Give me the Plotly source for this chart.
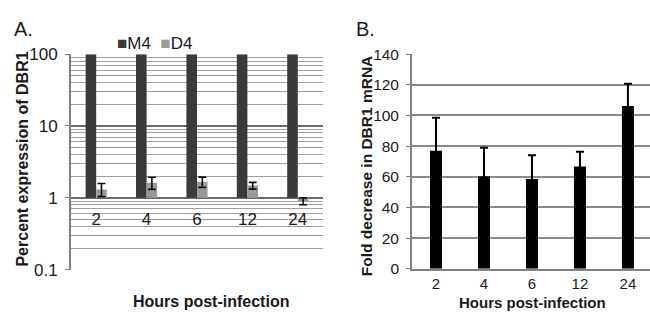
import plotly.graph_objects as go

# ---- data ----
hours = ["2", "4", "6", "12", "24"]
m4_percent = [100, 100, 100, 100, 100]
d4_percent = [1.31, 1.62, 1.67, 1.48, 0.90]
d4_err = [0.27, 0.31, 0.27, 0.16, 0.10]
fold_decrease = [77.0, 60.4, 58.5, 66.7, 106.1]
fold_err = [21.5, 18.6, 15.6, 9.7, 14.6]
yticks_a = [0.1, 1, 10, 100]
yticklabels_a = ["0.1", "1", "10", "100"]
minor_a = [k * 10.0 ** e for e in (-1, 0, 1) for k in range(2, 10)]
yticks_b = [0, 20, 40, 60, 80, 100, 120, 140]

W, H = 650, 322
def px_x(p): return p / W
def px_y(p): return (H - p) / H

FONT = "Liberation Sans, Arial, sans-serif"
TXT = "#1a1a1a"

fig = go.Figure()
base_a = 1.0
fig.add_trace(go.Bar(x=hours, y=[v - base_a for v in m4_percent], base=[base_a] * 5,
                     marker=dict(color="#3a3a3a", line=dict(width=0)), name="M4",
                     xaxis="x", yaxis="y", showlegend=False))
fig.add_trace(go.Bar(x=hours, y=[v - base_a for v in d4_percent], base=[base_a] * 5,
                     marker=dict(color="#9a9a9a", line=dict(width=0)), name="D4",
                     error_y=dict(type="data", array=d4_err, color="#111111", thickness=1.6, width=4),
                     xaxis="x", yaxis="y", showlegend=False))
fig.add_trace(go.Bar(x=hours, y=fold_decrease, marker=dict(color="#000000", line=dict(width=0)),
                     error_y=dict(type="data", array=fold_err, color="#000000", thickness=2, width=4),
                     width=0.25, xaxis="x2", yaxis="y2", showlegend=False))

ya0, ya1 = px_y(277), px_y(48)
one_pos = ya0 + (ya1 - ya0) * (1 / 3)

fig.update_layout(
    width=W, height=H, margin=dict(l=0, r=0, t=0, b=0),
    paper_bgcolor="white", plot_bgcolor="white",
    font=dict(family=FONT, color=TXT),
    barmode="group", bargap=0.58, bargroupgap=0,
    xaxis=dict(domain=[px_x(71), px_x(323)], anchor="free", position=one_pos,
               showline=False, showgrid=False, ticks="", ticklen=0, tickfont=dict(size=17, color=TXT),
               ticklabelstandoff=9, range=[-0.5, 4.5], zeroline=False),
    yaxis=dict(domain=[ya0, ya1], type="log", range=[-1, 2], tickvals=yticks_a,
               ticktext=yticklabels_a, showgrid=True, gridcolor="#6a6a6a", gridwidth=2,
               minor=dict(tickvals=minor_a, showgrid=True, gridcolor="#a0a0a0", gridwidth=1.3, ticks=""),
               showline=True, linecolor="#808080", linewidth=1.8, ticks="outside", ticklen=4,
               tickcolor="#808080", tickfont=dict(size=17, color=TXT), zeroline=False,
               ticklabelstandoff=4, anchor="x"),
    xaxis2=dict(domain=[px_x(412), 1], anchor="y2", range=[-0.5, 4.46], showline=True,
                linecolor="#808080", linewidth=1.8, showgrid=False, ticks="", ticklen=0,
                tickfont=dict(size=15, color=TXT), ticklabelstandoff=0),
    yaxis2=dict(domain=[px_y(276), px_y(48)], anchor="x2", range=[0, 140], tickvals=yticks_b,
                showgrid=True, gridcolor="#8a8a8a", gridwidth=1.6, showline=True,
                linecolor="#808080", linewidth=1.8, ticks="outside", ticklen=4, tickcolor="#808080",
                tickfont=dict(size=15.5, color=TXT), zeroline=False, ticklabelstandoff=4),
)

ann = []
ann.append(dict(text="A.", x=px_x(12), y=px_y(21.5), xanchor="left", yanchor="middle",
                font=dict(size=20, color=TXT)))
ann.append(dict(text="B.", x=px_x(354), y=px_y(21.5), xanchor="left", yanchor="middle",
                font=dict(size=20, color=TXT)))
ann.append(dict(text="<b>Percent expression of DBR1</b>", x=px_x(23), y=px_y(160), textangle=-90,
                xanchor="center", yanchor="middle", font=dict(size=16, color=TXT)))
ann.append(dict(text="<b>Fold decrease in DBR1 mRNA</b>", x=px_x(366), y=px_y(166), textangle=-90,
                xanchor="center", yanchor="middle", font=dict(size=15.5, color=TXT)))
ann.append(dict(text="<b>Hours post-infection</b>", x=px_x(211), y=px_y(311), xanchor="center",
                yanchor="middle", font=dict(size=16, color=TXT)))
ann.append(dict(text="<b>Hours post-infection</b>", x=px_x(532), y=px_y(312), xanchor="center",
                yanchor="middle", font=dict(size=15, color=TXT)))
ann.append(dict(text='<span style="color:#3a3a3a">■</span>M4  <span style="color:#9a9a9a">■</span>D4',
                x=px_x(115), y=px_y(36.5), xanchor="left", yanchor="middle",
                font=dict(size=17, color=TXT)))
for a in ann:
    a.update(xref="paper", yref="paper", showarrow=False)
fig.update_layout(annotations=ann)

fig.write_html("out.html")
